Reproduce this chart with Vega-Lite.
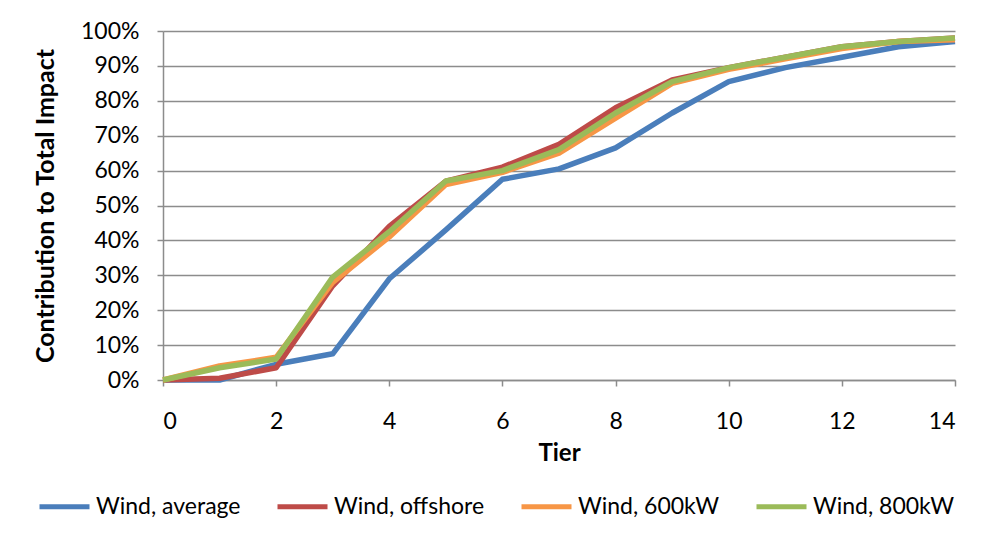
{
  "$schema": "https://vega.github.io/schema/vega-lite/v6.json",
  "width": 792,
  "height": 349,
  "autosize": {"type": "none"},
  "padding": {"left": 163, "top": 31, "right": 39, "bottom": 159},
  "background": "white",
  "config": {
    "font": "Lato",
    "view": {"stroke": null},
    "axis": {
      "labelFont": "Lato",
      "labelFontSize": 23,
      "labelColor": "black",
      "titleFont": "Lato",
      "titleFontSize": 24,
      "titleFontWeight": "bold",
      "titleColor": "black",
      "domainColor": "#8c8c8c",
      "domainWidth": 1.5,
      "tickColor": "#8c8c8c",
      "tickWidth": 1.5,
      "tickSize": 6,
      "gridColor": "#8c8c8c",
      "gridWidth": 1.5
    },
    "legend": {
      "labelFont": "Lato",
      "labelFontSize": 23,
      "labelColor": "black"
    }
  },
  "data": {
    "values": [
      {"tier": 0, "series": "Wind, average", "v": 0.0},
      {"tier": 1, "series": "Wind, average", "v": 0.0},
      {"tier": 2, "series": "Wind, average", "v": 0.045},
      {"tier": 3, "series": "Wind, average", "v": 0.075},
      {"tier": 4, "series": "Wind, average", "v": 0.29},
      {"tier": 5, "series": "Wind, average", "v": 0.43},
      {"tier": 6, "series": "Wind, average", "v": 0.575},
      {"tier": 7, "series": "Wind, average", "v": 0.605},
      {"tier": 8, "series": "Wind, average", "v": 0.665},
      {"tier": 9, "series": "Wind, average", "v": 0.765},
      {"tier": 10, "series": "Wind, average", "v": 0.855},
      {"tier": 11, "series": "Wind, average", "v": 0.895},
      {"tier": 12, "series": "Wind, average", "v": 0.925},
      {"tier": 13, "series": "Wind, average", "v": 0.955},
      {"tier": 14, "series": "Wind, average", "v": 0.97},
      {"tier": 0, "series": "Wind, offshore", "v": 0.0},
      {"tier": 1, "series": "Wind, offshore", "v": 0.005},
      {"tier": 2, "series": "Wind, offshore", "v": 0.035},
      {"tier": 3, "series": "Wind, offshore", "v": 0.27},
      {"tier": 4, "series": "Wind, offshore", "v": 0.44},
      {"tier": 5, "series": "Wind, offshore", "v": 0.57},
      {"tier": 6, "series": "Wind, offshore", "v": 0.61},
      {"tier": 7, "series": "Wind, offshore", "v": 0.675},
      {"tier": 8, "series": "Wind, offshore", "v": 0.78},
      {"tier": 9, "series": "Wind, offshore", "v": 0.86},
      {"tier": 10, "series": "Wind, offshore", "v": 0.895},
      {"tier": 11, "series": "Wind, offshore", "v": 0.925},
      {"tier": 12, "series": "Wind, offshore", "v": 0.955},
      {"tier": 13, "series": "Wind, offshore", "v": 0.97},
      {"tier": 14, "series": "Wind, offshore", "v": 0.98},
      {"tier": 0, "series": "Wind, 600kW", "v": 0.0},
      {"tier": 1, "series": "Wind, 600kW", "v": 0.04},
      {"tier": 2, "series": "Wind, 600kW", "v": 0.065},
      {"tier": 3, "series": "Wind, 600kW", "v": 0.28},
      {"tier": 4, "series": "Wind, 600kW", "v": 0.41},
      {"tier": 5, "series": "Wind, 600kW", "v": 0.56},
      {"tier": 6, "series": "Wind, 600kW", "v": 0.595},
      {"tier": 7, "series": "Wind, 600kW", "v": 0.65},
      {"tier": 8, "series": "Wind, 600kW", "v": 0.75},
      {"tier": 9, "series": "Wind, 600kW", "v": 0.85},
      {"tier": 10, "series": "Wind, 600kW", "v": 0.89},
      {"tier": 11, "series": "Wind, 600kW", "v": 0.92},
      {"tier": 12, "series": "Wind, 600kW", "v": 0.95},
      {"tier": 13, "series": "Wind, 600kW", "v": 0.97},
      {"tier": 14, "series": "Wind, 600kW", "v": 0.975},
      {"tier": 0, "series": "Wind, 800kW", "v": 0.0},
      {"tier": 1, "series": "Wind, 800kW", "v": 0.035},
      {"tier": 2, "series": "Wind, 800kW", "v": 0.06},
      {"tier": 3, "series": "Wind, 800kW", "v": 0.295},
      {"tier": 4, "series": "Wind, 800kW", "v": 0.425},
      {"tier": 5, "series": "Wind, 800kW", "v": 0.57},
      {"tier": 6, "series": "Wind, 800kW", "v": 0.60},
      {"tier": 7, "series": "Wind, 800kW", "v": 0.66},
      {"tier": 8, "series": "Wind, 800kW", "v": 0.765},
      {"tier": 9, "series": "Wind, 800kW", "v": 0.855},
      {"tier": 10, "series": "Wind, 800kW", "v": 0.895},
      {"tier": 11, "series": "Wind, 800kW", "v": 0.925},
      {"tier": 12, "series": "Wind, 800kW", "v": 0.955},
      {"tier": 13, "series": "Wind, 800kW", "v": 0.97},
      {"tier": 14, "series": "Wind, 800kW", "v": 0.98}
    ]
  },
  "mark": {"type": "line", "strokeWidth": 5.5, "strokeJoin": "round", "strokeCap": "butt"},
  "encoding": {
    "x": {
      "field": "tier",
      "type": "quantitative",
      "scale": {"domain": [0, 14], "nice": false},
      "axis": {
        "title": "Tier",
        "values": [0, 2, 4, 6, 8, 10, 12, 14],
        "grid": false,
        "labelPadding": 24,
        "titlePadding": 8
      }
    },
    "y": {
      "field": "v",
      "type": "quantitative",
      "scale": {"domain": [0, 1], "nice": false},
      "axis": {
        "title": "Contribution to Total Impact",
        "titleFontSize": 25,
        "values": [0, 0.1, 0.2, 0.3, 0.4, 0.5, 0.6, 0.7, 0.8, 0.9, 1.0],
        "format": ".0%",
        "labelPadding": 18,
        "titlePadding": 22
      }
    },
    "color": {
      "field": "series",
      "type": "nominal",
      "sort": ["Wind, average", "Wind, offshore", "Wind, 600kW", "Wind, 800kW"],
      "scale": {
        "domain": ["Wind, average", "Wind, offshore", "Wind, 600kW", "Wind, 800kW"],
        "range": ["#4A7EBB", "#BE4B48", "#F79646", "#9BBB59"]
      },
      "legend": {
        "title": null,
        "orient": "none",
        "direction": "horizontal",
        "legendX": -126,
        "legendY": 448,
        "symbolType": "stroke",
        "symbolSize": 2500,
        "symbolStrokeWidth": 5,
        "labelOffset": 4,
        "columnPadding": 26,
        "labelLimit": 300
      }
    }
  }
}
